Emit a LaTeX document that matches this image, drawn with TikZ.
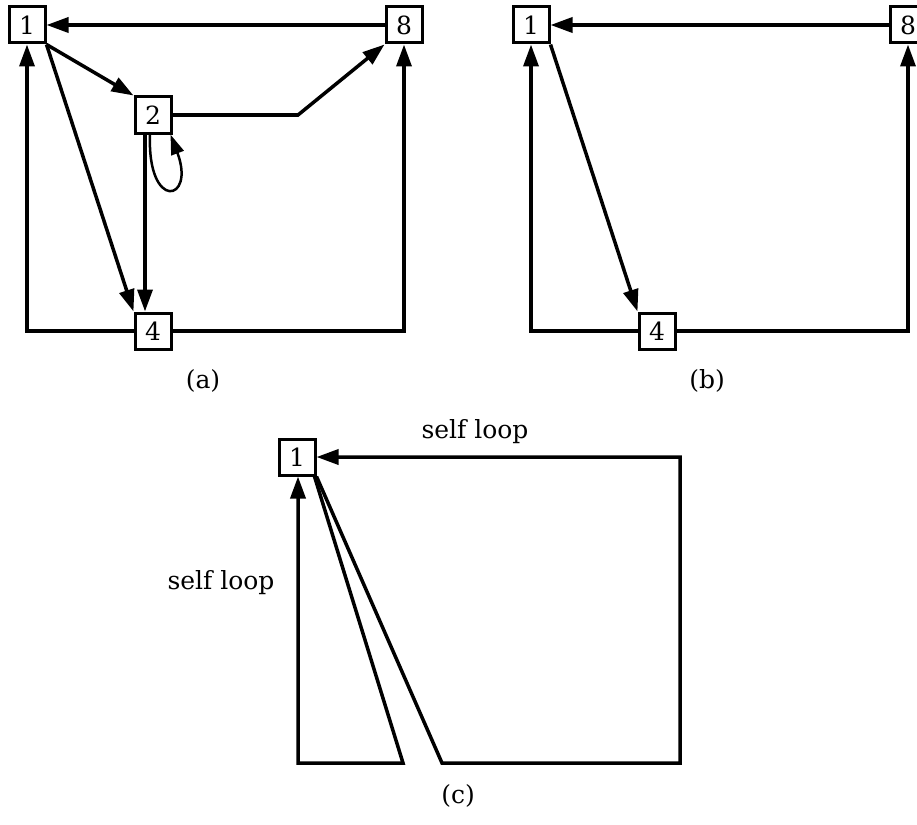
\documentclass[tikz,border=0pt]{standalone}
\usepackage{fontspec}
\setmainfont{DejaVu Serif}
\usetikzlibrary{arrows.meta}
\begin{document}
\begin{tikzpicture}[x=1pt,y=-1pt,
  vbox/.style={draw,line width=3pt,fill=white,minimum size=36pt,inner sep=0pt,font=\fontsize{25}{27}\selectfont},
  edge/.style={line width=3.5pt},
  arr/.style={edge,-{Triangle[length=22pt,width=15pt]}},
  lbl/.style={font=\fontsize{25}{27}\selectfont,inner sep=0pt}]
\clip (0,0) rectangle (917,824);
\useasboundingbox (0,0) rectangle (917,824);
% ---- panel (a)
\coordinate (abend) at (298,115);
\coordinate (loopA) at (147,212);
\coordinate (loopB) at (196,202);
\node[vbox] (a1) at (27,25) {1};
\node[vbox] (a8) at (404,25) {8};
\node[vbox] (a2) at (153,115) {2};
\node[vbox] (a4) at (153,331) {4};
\draw[arr] (a8.west) -- (a1.east);
\draw[arr] (a1.south east) -- (a2.north west);
\draw[arr] (a1.south east) -- (a4.north west);
\draw[arr] ([xshift=-8pt]a2.south) -- ([xshift=-8pt]a4.north);
\draw[arr] (a2.east) -- (abend) -- (a8.south west);
\draw[edge,line width=2.5pt,-{Triangle[length=20pt,width=13pt]}] ([xshift=-3pt]a2.south) .. controls (loopA) and (loopB) .. ([xshift=-2pt]a2.south east);
\draw[arr] (a4.west) -| (a1.south);
\draw[arr] (a4.east) -| (a8.south);
\node[lbl] (la) at (203,381) {(a)};
% ---- panel (b)
\node[vbox] (b1) at (531,25) {1};
\node[vbox] (b8) at (908,25) {8};
\node[vbox] (b4) at (657,331) {4};
\draw[arr] (b8.west) -- (b1.east);
\draw[arr] (b1.south east) -- (b4.north west);
\draw[arr] (b4.west) -| (b1.south);
\draw[arr] (b4.east) -| (b8.south);
\node[lbl] (lb) at (707,381) {(b)};
% ---- panel (c)
\node[vbox] (c1) at (297,457) {1};
\coordinate (cb1) at (442,763);
\coordinate (cb2) at (680,763);
\coordinate (cb3) at (403,763);
\coordinate (cb4) at (298,763);
\draw[arr] (c1.south east) -- (cb1) -- (cb2) |- (c1.east);
\draw[arr] ([xshift=-2pt]c1.south east) -- (cb3) -- (cb4) -- ([xshift=1pt]c1.south);
\node[lbl] (ls1) at (475,432) {self loop};
\node[lbl] (ls2) at (221,583) {self loop};
\node[lbl] (lc) at (458,796) {(c)};
\end{tikzpicture}
\end{document}
